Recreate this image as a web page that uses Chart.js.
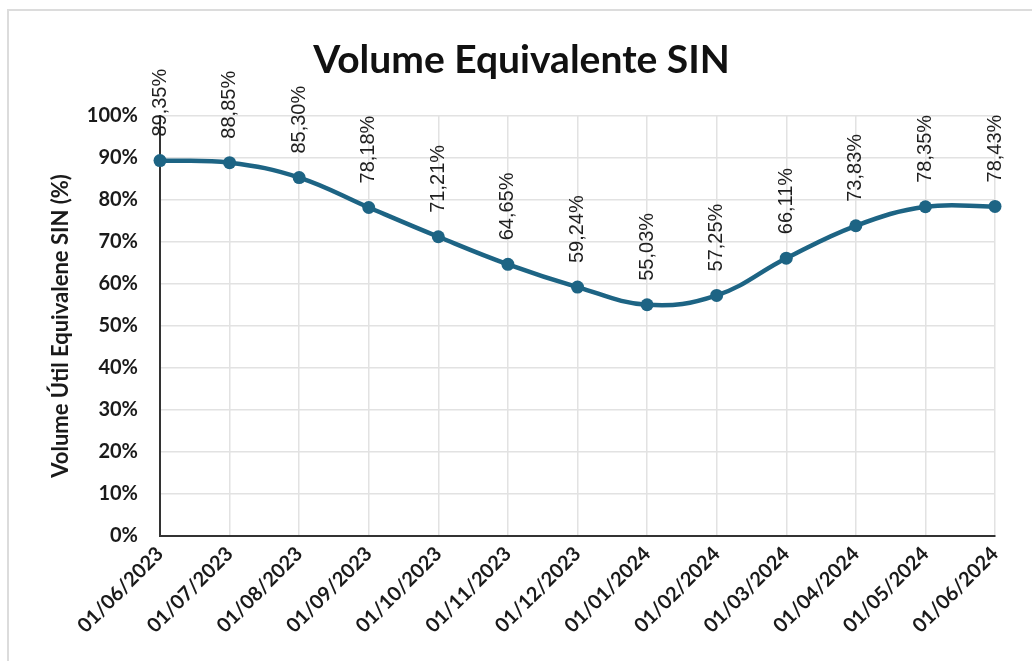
<!DOCTYPE html>
<html>
<head>
<meta charset="utf-8">
<script src="https://cdn.jsdelivr.net/npm/chart.js@4/dist/chart.umd.min.js"></script>
<style>
    html, body { margin: 0; padding: 0; background: #fff; }
    #frame {
        position: absolute; left: 7px; top: 9px; width: 1040px; height: 700px;
        border: 2px solid #dcdcdc; box-sizing: border-box;
    }
    #wrap { position: absolute; left: 0; top: 0; width: 1032px; height: 661px; }
</style>
</head>
<body>
<div id="frame"></div>
<div id="wrap"><canvas id="volumeChart"></canvas></div>
<script>
const dates = [
    '01/06/2023', '01/07/2023', '01/08/2023', '01/09/2023', '01/10/2023', '01/11/2023', '01/12/2023',
    '01/01/2024', '01/02/2024', '01/03/2024', '01/04/2024', '01/05/2024', '01/06/2024'
];
const volumePct = [89.35, 88.85, 85.30, 78.18, 71.21, 64.65, 59.24, 55.03, 57.25, 66.11, 73.83, 78.35, 78.43];
const yTicks = [0, 10, 20, 30, 40, 50, 60, 70, 80, 90, 100];

const lineColor = '#1d6484';
const fmtPct = v => v.toFixed(2).replace('.', ',') + '%';

// vertical value labels above each point
const pointLabels = {
    id: 'pointLabels',
    afterDatasetsDraw(chart) {
        const ctx = chart.ctx;
        const meta = chart.getDatasetMeta(0);
        ctx.save();
        ctx.font = '20px "Liberation Sans", Arial, sans-serif';
        ctx.fillStyle = '#1f1f1f';
        ctx.textAlign = 'left';
        ctx.textBaseline = 'middle';
        meta.data.forEach((pt, i) => {
            ctx.save();
            ctx.translate(pt.x, pt.y - 24);
            ctx.rotate(-Math.PI / 2);
            ctx.fillText(fmtPct(volumePct[i]), 0, 0);
            ctx.restore();
        });
        ctx.restore();
    }
};

new Chart(document.getElementById('volumeChart').getContext('2d'), {
    type: 'line',
    data: {
        labels: dates,
        datasets: [{
            data: volumePct,
            borderColor: lineColor,
            backgroundColor: lineColor,
            borderWidth: 4.5,
            pointRadius: 6.5,
            pointBackgroundColor: lineColor,
            pointBorderWidth: 0,
            tension: 0.4,
            clip: false
        }]
    },
    options: {
        responsive: true,
        maintainAspectRatio: false,
        animation: false,
        layout: { padding: { left: 48, right: 37, top: 0, bottom: 0 } },
        plugins: {
            legend: { display: false },
            tooltip: { enabled: false },
            title: {
                display: true,
                text: 'Volume Equivalente SIN',
                color: '#111',
                font: { family: 'Lato', size: 39, weight: 'bold' },
                padding: { top: 37, bottom: 32 }
            }
        },
        scales: {
            x: {
                offset: false,
                grid: { color: '#e2e2e2', lineWidth: 1.5, drawTicks: false },
                border: { color: '#333', width: 2 },
                ticks: {
                    color: '#1a1a1a',
                    font: { family: 'Lato', size: 20, weight: 'bold' },
                    minRotation: 45,
                    maxRotation: 45,
                    padding: 6
                },
                afterFit: s => { s.height = 125; }
            },
            y: {
                min: 0,
                max: 100,
                afterBuildTicks: s => { s.ticks = yTicks.map(v => ({ value: v })); },
                grid: { color: '#e2e2e2', lineWidth: 1.5, drawTicks: false },
                border: { color: '#333', width: 2 },
                ticks: {
                    color: '#1a1a1a',
                    font: { family: 'Lato', size: 20, weight: 'bold' },
                    padding: 22,
                    callback: v => v + '%'
                },
                title: {
                    display: true,
                    text: 'Volume Útil Equivalene SIN (%)',
                    color: '#1a1a1a',
                    font: { family: 'Lato', size: 22, weight: 'bold' },
                    padding: 0
                },
                afterFit: s => { s.width = 112; }
            }
        }
    },
    plugins: [pointLabels]
});
</script>
</body>
</html>
